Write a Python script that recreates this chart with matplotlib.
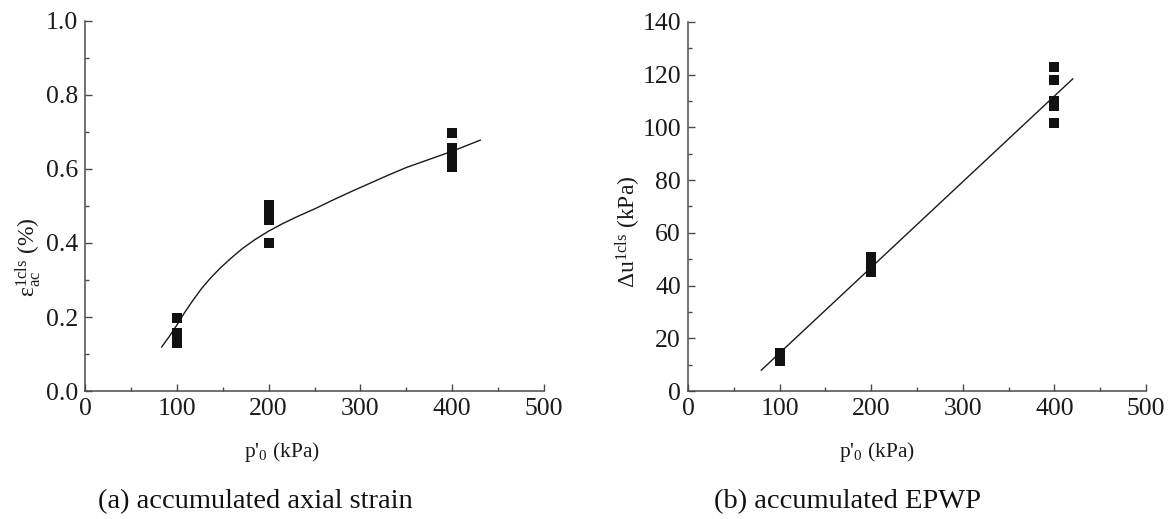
import matplotlib
matplotlib.use("Agg")
import matplotlib.pyplot as plt
from matplotlib.ticker import MultipleLocator

plt.rcParams['font.family'] = ['Liberation Serif', 'DejaVu Serif']
plt.rcParams['mathtext.fontset'] = 'custom'
plt.rcParams['mathtext.rm'] = 'Liberation Serif'
plt.rcParams['mathtext.it'] = 'Liberation Serif:italic'

# ---- data: (a) accumulated axial strain ----
strain_p = [100, 100, 100, 100, 200, 200, 200, 200, 400, 400, 400, 400, 400]
strain_val = [0.198, 0.157, 0.143, 0.130, 0.503, 0.480, 0.462, 0.400, 0.698, 0.656, 0.640, 0.622, 0.606]
strain_fit_p = [83.5, 92, 100, 108, 117, 127, 137, 148, 160, 172, 185, 200, 215, 230, 250,
                270, 290, 310, 330, 350, 375, 400, 430.6]
strain_fit_val = [0.119, 0.148, 0.178, 0.210, 0.243, 0.277, 0.306, 0.334, 0.361, 0.386, 0.409,
                  0.432, 0.452, 0.470, 0.492, 0.516, 0.539, 0.561, 0.583, 0.604, 0.626, 0.648, 0.678]

# ---- data: (b) accumulated EPWP ----
epwp_p = [100, 100, 100, 200, 200, 200, 200, 400, 400, 400, 400, 400]
epwp_val = [11.5, 13.0, 14.3, 45.3, 47.3, 49.2, 51.0, 122.8, 117.9, 109.9, 108.2, 101.8]
epwp_fit_p = [80, 420]
epwp_fit_val = [7.9, 118.4]

W, H = 1170, 519
fig = plt.figure(figsize=(W / 100, H / 100), dpi=100)

spine_c = '#4a4a4a'

def style(ax, ymax, ymaj, ymin, fmt):
    ax.set_xlim(0, 500)
    ax.set_ylim(0, ymax)
    for s in ['top', 'right']:
        ax.spines[s].set_visible(False)
    for s in ['left', 'bottom']:
        ax.spines[s].set_color(spine_c)
        ax.spines[s].set_linewidth(1.1)
    ax.xaxis.set_major_locator(MultipleLocator(100))
    ax.xaxis.set_minor_locator(MultipleLocator(50))
    ax.yaxis.set_major_locator(MultipleLocator(ymaj))
    ax.yaxis.set_minor_locator(MultipleLocator(ymin))
    ax.tick_params(which='major', direction='in', length=5, width=1.0, color=spine_c,
                   labelsize=18.5, labelcolor='#1a1a1a', pad=5)
    ax.tick_params(which='minor', direction='in', length=3, width=1.0, color=spine_c)
    ax.yaxis.set_major_formatter(plt.FuncFormatter(lambda v, p: fmt.format(v)))

ax1 = fig.add_axes([85 / W, 1 - 391 / H, 459 / W, 370 / H])
ax1.plot(strain_fit_p, strain_fit_val, color='#1a1a1a', lw=1.0)
ax1.plot(strain_p, strain_val, 's', color='#111111', ms=6.5, mew=0, clip_on=False)
style(ax1, 1.0, 0.2, 0.1, '{:.1f}')

ax2 = fig.add_axes([688 / W, 1 - 391 / H, 458 / W, 369 / H])
ax2.plot(epwp_fit_p, epwp_fit_val, color='#1a1a1a', lw=1.0)
ax2.plot(epwp_p, epwp_val, 's', color='#111111', ms=6.5, mew=0, clip_on=False)
style(ax2, 140, 20, 10, '{:.0f}')

# axis labels
fig.text(282 / W, 1 - 452 / H, r"p'$_{0}$ (kPa)", ha='center', va='center', fontsize=15.5, color='#1a1a1a')
fig.text(877 / W, 1 - 452 / H, r"p'$_{0}$ (kPa)", ha='center', va='center', fontsize=15.5, color='#1a1a1a')
fig.text(28 / W, 1 - 257 / H, r"ε$_{\rm ac}^{\rm 1cls}$ (%)", ha='center', va='center',
         rotation=90, fontsize=17, color='#1a1a1a')
fig.text(628 / W, 1 - 232 / H, r"Δu$^{\rm 1cls}$ (kPa)", ha='center', va='center',
         rotation=90, fontsize=17, color='#1a1a1a')

# captions
fig.text(255 / W, 1 - 502 / H, "(a) accumulated axial strain", ha='center', va='center',
         fontsize=20.5, color='#111111')
fig.text(847 / W, 1 - 502 / H, "(b) accumulated EPWP", ha='center', va='center',
         fontsize=20.5, color='#111111')

fig.savefig('out.png', dpi=100)
